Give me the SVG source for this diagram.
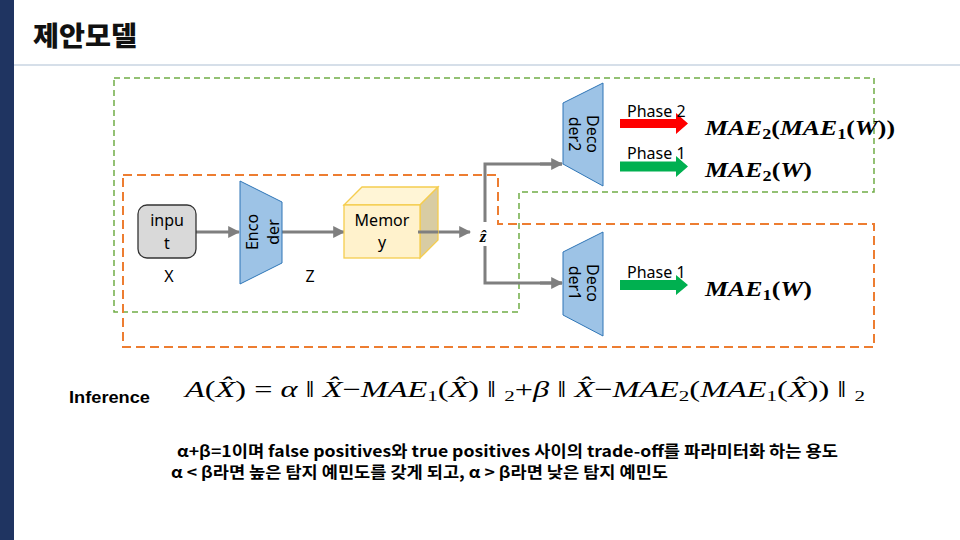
<svg xmlns="http://www.w3.org/2000/svg" width="960" height="540" viewBox="0 0 960 540">
<defs>
<style>
.lbl{font-family:"Noto Sans","Noto Sans CJK KR",sans-serif;font-size:16px;fill:#000}
.ph{font-family:"Noto Sans","Noto Sans CJK KR",sans-serif;font-size:16px;fill:#000}
.math{font-family:"Liberation Serif","DejaVu Serif",serif;font-weight:bold;font-style:italic;font-size:20px;fill:#000}
.sub{font-size:14px;font-style:normal}
.conn{stroke:#7f7f7f;stroke-width:3;fill:none}
.trap{fill:#9dc3e6;stroke:#2e75b6;stroke-width:1}
.kr{font-family:"Noto Sans CJK KR","Noto Sans",sans-serif;font-weight:bold;font-size:15.5px;fill:#000}
</style>
<marker id="ah" viewBox="0 0 10 10" refX="9" refY="5" markerWidth="4" markerHeight="4" orient="auto" markerUnits="strokeWidth">
<path d="M0,0 L10,5 L0,10 z" fill="#7f7f7f"/>
</marker>
</defs>
<rect width="960" height="540" fill="#ffffff"/>
<rect x="0" y="0" width="14" height="540" fill="#1f3461"/>
<line x1="14" y1="65" x2="960" y2="65" stroke="#c9d5e2" stroke-width="1.5"/>
<text x="33" y="46" font-family="'Noto Sans CJK KR',sans-serif" font-weight="900" font-size="27" fill="#111" textLength="104" lengthAdjust="spacingAndGlyphs">제안모델</text>

<g id="groups">
<path d="M114,78 H874 V192 H519 V312 H114 Z" fill="none" stroke="#70ad47" stroke-width="1.5" stroke-dasharray="6,4"/>
<path d="M123,175 H498 V224 H874 V347 H123 Z" fill="none" stroke="#ed7d31" stroke-width="2" stroke-dasharray="9,5"/>
</g>

<g id="connectors">
<line class="conn" x1="196" y1="232" x2="239" y2="232" marker-end="url(#ah)"/>
<line class="conn" x1="282" y1="232" x2="344" y2="232" marker-end="url(#ah)"/>
<line class="conn" x1="420" y1="232" x2="470" y2="232" marker-end="url(#ah)"/>
<polyline class="conn" points="562,164 485,164 485,222"/>
<polyline class="conn" points="485,246 485,283 562,283"/>
<line class="conn" x1="540" y1="164" x2="562" y2="164" marker-end="url(#ah)"/>
<line class="conn" x1="540" y1="283" x2="562" y2="283" marker-end="url(#ah)"/>
<path d="M620,119 H676 V113 L688,123.5 L676,134 V128 H620 Z" fill="#ff0000"/>
<path d="M620,161.5 H676 V156 L688,166.5 L676,177 V171.5 H620 Z" fill="#00b050"/>
<path d="M620,280 H676 V275 L688,285 L676,295 V290 H620 Z" fill="#00b050"/>
</g>

<g id="input">
<rect x="138" y="205" width="58" height="53" rx="9" fill="#d9d9d9" stroke="#333" stroke-width="1.3"/>
<text class="lbl" x="167" y="226" text-anchor="middle">inpu</text>
<text class="lbl" x="167" y="249" text-anchor="middle">t</text>
<text class="lbl" x="169" y="282" text-anchor="middle">X</text>
</g>

<g id="encoder">
<polygon class="trap" points="240,181 282,202 282,263 240,284"/>
<g transform="translate(262,232) rotate(-90)">
<text class="lbl" x="0" y="-4" text-anchor="middle">Enco</text>
<text class="lbl" x="0" y="17" text-anchor="middle">der</text>
</g>
<text class="lbl" x="310" y="282" text-anchor="middle">Z</text>
</g>

<g id="memory">
<polygon points="344,205 362,187 438,187 420,205" fill="#fff5d6" stroke="#f5cd4f" stroke-width="1.3"/>
<polygon points="420,205 438,187 438,240 420,258" fill="#d8cca3" stroke="#f5cd4f" stroke-width="1.3"/>
<rect x="344" y="205" width="76" height="53" fill="#fff2cc" stroke="#f5cd4f" stroke-width="1.3"/>
<text class="lbl" x="382" y="226" text-anchor="middle" font-size="16.5">Memor</text>
<text class="lbl" x="382" y="248" text-anchor="middle">y</text>
<line class="conn" x1="418" y1="232" x2="438" y2="232"/>
</g>

<g id="zhat">
<text x="483" y="242" text-anchor="middle" font-family="'Liberation Serif','DejaVu Serif',serif" font-weight="bold" font-style="italic" font-size="17">z&#770;</text>
</g>

<g id="decoder2">
<polygon class="trap" points="563,103 603,83 603,186 563,164"/>
<g transform="translate(583,134) rotate(90)">
<text class="lbl" x="0" y="-4" text-anchor="middle">Deco</text>
<text class="lbl" x="0" y="14" text-anchor="middle">der2</text>
</g>
<text class="ph" x="627" y="117">Phase 2</text>
<text class="ph" x="627" y="159">Phase 1</text>
<text class="math" x="705" y="135" textLength="190" lengthAdjust="spacingAndGlyphs">MAE<tspan class="sub" dy="4">2</tspan><tspan dy="-4" font-style="normal">(</tspan>MAE<tspan class="sub" dy="4">1</tspan><tspan dy="-4" font-style="normal">(</tspan>W<tspan font-style="normal">))</tspan></text>
<text class="math" x="705" y="177" textLength="107" lengthAdjust="spacingAndGlyphs">MAE<tspan class="sub" dy="4">2</tspan><tspan dy="-4" font-style="normal">(</tspan>W<tspan font-style="normal">)</tspan></text>
</g>

<g id="decoder1">
<polygon class="trap" points="563,252 603,232 603,336 563,315"/>
<g transform="translate(583,283) rotate(90)">
<text class="lbl" x="0" y="-4" text-anchor="middle">Deco</text>
<text class="lbl" x="0" y="14" text-anchor="middle">der1</text>
</g>
<text class="ph" x="627" y="278">Phase 1</text>
<text class="math" x="705" y="296" textLength="107" lengthAdjust="spacingAndGlyphs">MAE<tspan class="sub" dy="4">1</tspan><tspan dy="-4" font-style="normal">(</tspan>W<tspan font-style="normal">)</tspan></text>
</g>

<g id="inference">
<text x="69" y="403" font-family="'Liberation Sans',Arial,sans-serif" font-weight="bold" font-size="17" fill="#000" textLength="81" lengthAdjust="spacingAndGlyphs">Inference</text>
<text x="185" y="397" font-family="'Liberation Serif','DejaVu Serif',serif" font-style="italic" font-size="23" fill="#000" textLength="680" lengthAdjust="spacingAndGlyphs">A<tspan font-style="normal">(</tspan>X&#770;<tspan font-style="normal">) = </tspan>α<tspan font-style="normal"> ‖ </tspan>X&#770;<tspan font-style="normal">−</tspan>MAE<tspan font-style="normal" font-size="15" dy="4">1</tspan><tspan font-style="normal" dy="-4">(</tspan>X&#770;<tspan font-style="normal">) ‖ </tspan><tspan font-style="normal" font-size="15" dy="4">2</tspan><tspan font-style="normal" dy="-4">+</tspan>β<tspan font-style="normal"> ‖ </tspan>X&#770;<tspan font-style="normal">−</tspan>MAE<tspan font-style="normal" font-size="15" dy="4">2</tspan><tspan font-style="normal" dy="-4">(</tspan>MAE<tspan font-style="normal" font-size="15" dy="4">1</tspan><tspan font-style="normal" dy="-4">(</tspan>X&#770;<tspan font-style="normal">)) ‖ </tspan><tspan font-style="normal" font-size="15" dy="4">2</tspan></text>
</g>

<g id="notes">
<text class="kr" x="177" y="457" textLength="661" lengthAdjust="spacingAndGlyphs">α+β=1이며 false positives와 true positives 사이의 trade-off를 파라미터화 하는 용도</text>
<text class="kr" x="171" y="478" textLength="497" lengthAdjust="spacingAndGlyphs">α &lt; β라면 높은 탐지 예민도를 갖게 되고, α &gt; β라면 낮은 탐지 예민도</text>
</g>
</svg>
